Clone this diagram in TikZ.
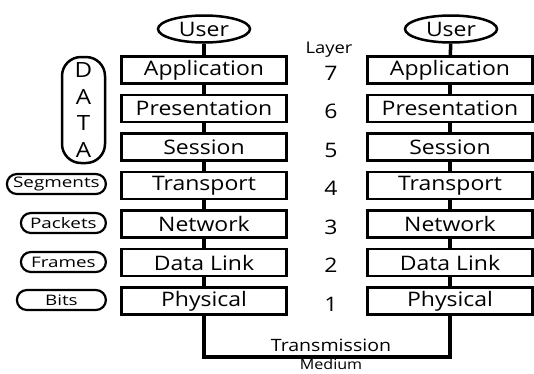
\documentclass[tikz,border=0pt]{standalone}
\usepackage{fontspec}
\setmainfont{Open Sans}[FakeStretch=1.15]
\newfontfamily\unitfont{Open Sans}[FakeStretch=1.3]
\usetikzlibrary{positioning,shapes.geometric}

\begin{document}
\begin{tikzpicture}[
    x=1pt, y=-1pt,
    node distance=38.5pt,
    layerbox/.style={rectangle, minimum width=165pt, minimum height=27pt, text centered, draw=black, line width=2.5pt, inner sep=0pt, font=\fontsize{20}{20}\selectfont},
    user/.style={ellipse, minimum width=92pt, minimum height=27pt, draw=black, line width=2.5pt, inner sep=0pt, font=\fontsize{20}{20}\selectfont},
    unit/.style={rectangle, rounded corners=10pt, minimum height=20pt, draw=black, line width=2.2pt, inner sep=0pt, anchor=east, font=\unitfont\fontsize{14.5}{14.5}\selectfont},
    number/.style={font=\fontsize{20}{20}\selectfont},
    link/.style={line width=3.5pt}
]
\useasboundingbox (0,0) rectangle (534,373);

% Users
\node (user1) [user] at (204,29) {User};
\node (user2) [user] at (451,29) {User};

% Left stack
\node (app1) [layerbox] at (204,70) {Application};
\node (pres1) [layerbox, below of=app1] {Presentation};
\node (sess1) [layerbox, below of=pres1] {Session};
\node (trans1) [layerbox, below of=sess1] {Transport};
\node (net1) [layerbox, below of=trans1] {Network};
\node (link1) [layerbox, below of=net1] {Data Link};
\node (phys1) [layerbox, below of=link1] {Physical};

% Right stack
\node (app2) [layerbox] at (450,70) {Application};
\node (pres2) [layerbox, below of=app2] {Presentation};
\node (sess2) [layerbox, below of=pres2] {Session};
\node (trans2) [layerbox, below of=sess2] {Transport};
\node (net2) [layerbox, below of=trans2] {Network};
\node (link2) [layerbox, below of=net2] {Data Link};
\node (phys2) [layerbox, below of=link2] {Physical};

% Layer numbers
\node (layer) [font=\fontsize{16}{16}\selectfont] at (329,50) {Layer};
\node (n7) [number] at (331,73) {7};
\node (n6) [number, below of=n7] {6};
\node (n5) [number, below of=n6] {5};
\node (n4) [number, below of=n5] {4};
\node (n3) [number, below of=n4] {3};
\node (n2) [number, below of=n3] {2};
\node (n1) [number, below of=n2] {1};

% Data units
\node (data) [rectangle, rounded corners=19pt, draw=black, line width=2.5pt, minimum width=43pt, minimum height=106pt, inner sep=0pt, align=center, font=\fontsize{21}{26.5}\selectfont] at (83.5,110) {D\\A\\T\\A};
\node (segments) [unit, minimum width=99pt] at (107,184) {Segments};
\node (packets) [unit, minimum width=85pt] at (107,223) {Packets};
\node (frames) [unit, minimum width=85pt] at (107,262) {Frames};
\node (bits) [unit, minimum width=89pt] at (107,300) {Bits};

% Links
\draw[link] (user1) -- (app1);
\draw[link] (app1) -- (pres1);
\draw[link] (pres1) -- (sess1);
\draw[link] (sess1) -- (trans1);
\draw[link] (trans1) -- (net1);
\draw[link] (net1) -- (link1);
\draw[link] (link1) -- (phys1);
\draw[link] (user2) -- (app2);
\draw[link] (app2) -- (pres2);
\draw[link] (pres2) -- (sess2);
\draw[link] (sess2) -- (trans2);
\draw[link] (trans2) -- (net2);
\draw[link] (net2) -- (link2);
\draw[link] (link2) -- (phys2);

% Transmission medium
\coordinate (medium) at (331,357);
\draw[link] (phys1.south) |- (medium) -| (phys2.south);
\node (tmtext) [font=\fontsize{17}{17}\selectfont] at (331,345) {Transmission};
\node (mdtext) [font=\fontsize{14}{14}\selectfont, inner sep=0pt] at (331,364.5) {Medium};

\end{tikzpicture}
\end{document}
